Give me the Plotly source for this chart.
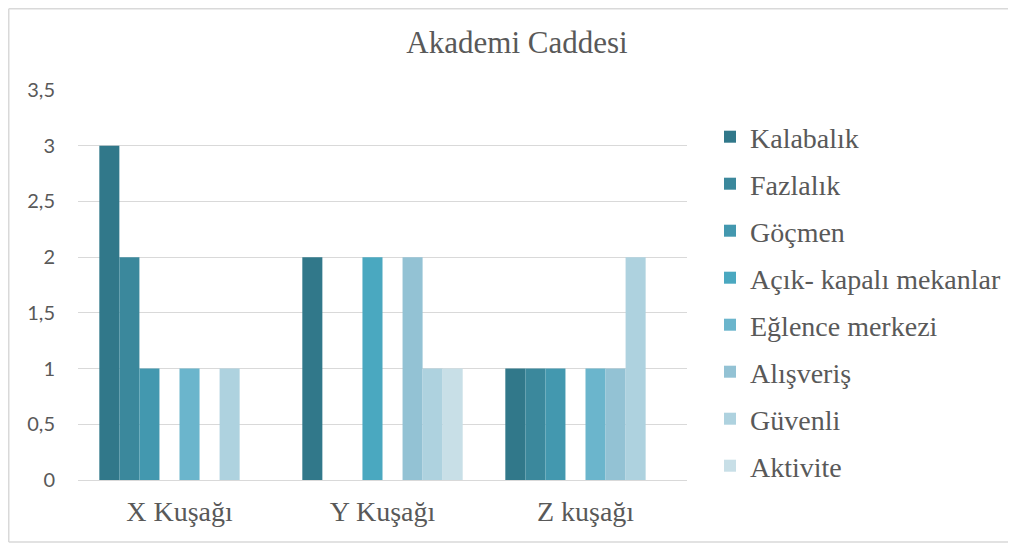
import plotly.graph_objects as go

categories = ["X Kuşağı", "Y Kuşağı", "Z kuşağı"]
series_names = ["Kalabalık", "Fazlalık", "Göçmen", "Açık- kapalı mekanlar",
                "Eğlence merkezi", "Alışveriş", "Güvenli", "Aktivite"]
kalabalik = [3, 2, 1]
fazlalik = [2, 0, 1]
gocmen = [1, 0, 1]
acik_kapali = [0, 2, 0]
eglence = [1, 0, 1]
alisveris = [0, 2, 1]
guvenli = [1, 1, 2]
aktivite = [0, 1, 0]
series_values = [kalabalik, fazlalik, gocmen, acik_kapali, eglence, alisveris, guvenli, aktivite]
colors = ["#31788A", "#3B889C", "#4398AF", "#4AA8C0", "#6BB5CC", "#93C2D4", "#AED2DF", "#C8DFE7"]
y_ticks = [0, 0.5, 1, 1.5, 2, 2.5, 3, 3.5]

fig = go.Figure()
for i, (name, vals) in enumerate(zip(series_names, series_values)):
    fig.add_trace(go.Bar(x=categories, y=vals, name=name, marker_color=colors[i],
                         marker_line_width=0, legendgroup=f"g{i}"))

W, H = 1016, 544
L, T, PW, PH = 70, 82, 609, 390
B = H - T - PH
serif = "Liberation Serif, Times New Roman, serif"


def px_x(x):
    return (x - L) / PW


def px_y(y):
    return (H - y - B) / PH


border = dict(color="#D9D9D9", width=1.5)
fig.update_layout(
    width=W, height=H,
    paper_bgcolor="white", plot_bgcolor="white",
    margin=dict(l=L, r=W - L - PW, t=T, b=B),
    barmode="group", bargap=0.21, bargroupgap=0,
    separators=",.",
    title=dict(text="Akademi Caddesi", x=509 / W, xref="container", xanchor="center",
               y=1 - 34 / H, yref="container", yanchor="middle",
               font=dict(family=serif, size=31, color="#595959")),
    xaxis=dict(showgrid=False, showline=False, ticks="",
               tickfont=dict(family=serif, size=28, color="#595959"),
               ticklabelstandoff=12),
    yaxis=dict(range=[0, 3.5], tickvals=y_ticks, showgrid=True, gridcolor="#D9D9D9",
               gridwidth=1.3, zeroline=True, zerolinecolor="#D9D9D9", zerolinewidth=1.3,
               showline=False, ticks="",
               tickfont=dict(family="Lato, Open Sans, sans-serif", size=20, color="#595959"),
               ticklabelstandoff=22),
    legend=dict(xref="container", yref="container", x=702 / W, xanchor="left",
                y=1 - 104 / H, yanchor="top", tracegroupgap=7.6, maxheight=520,
                font=dict(family=serif, size=28, color="#595959"),
                bgcolor="rgba(0,0,0,0)"),
    shapes=[
        dict(type="line", xref="paper", yref="paper", x0=px_x(0.75), x1=px_x(0.75),
             y0=px_y(534), y1=px_y(0.75), line=border, layer="below"),
        dict(type="line", xref="paper", yref="paper", x0=px_x(0.75), x1=px_x(1100),
             y0=px_y(0.75), y1=px_y(0.75), line=border, layer="below"),
        dict(type="line", xref="paper", yref="paper", x0=px_x(0.75), x1=px_x(1100),
             y0=px_y(534), y1=px_y(534), line=border, layer="below"),
    ],
)

fig.write_html("out.html")
